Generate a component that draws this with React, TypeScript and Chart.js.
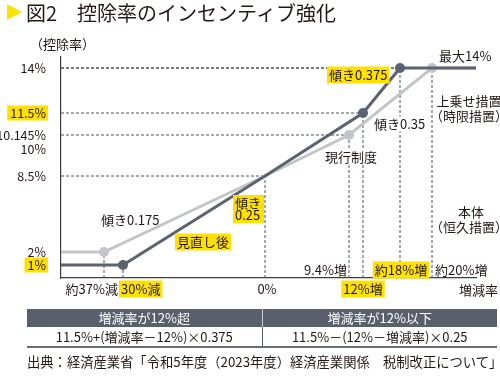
import React, { useEffect, useRef } from "react";
import { Chart, LinearScale, registerables } from "chart.js";

// ---------------- data ----------------
const revisedX = [-40, -30, 0, 12, 18, 25];
const revisedY = [1, 1, 8.5, 11.5, 14, 14];
const revisedMarked = [false, true, false, true, true, false];

const currentX = [-40, -37, 0, 9.4, 20, 25];
const currentY = [2, 2, 8.5, 10.145, 14, 14];
const currentMarked = [false, true, false, true, true, false];

const yTicks = [1, 2, 8.5, 10, 10.145, 11.5, 14];
const yTickLabels = ["1%", "2%", "8.5%", "10%", "10.145%", "11.5%", "14%"];
const yHighlighted = [1, 11.5];

const xMin = -40;
const xMax = 25;
const yMin = 0;
const yMax = 15;

// schematic (non-linear) axis spacing: [value, fraction of axis length]
const AXIS_BREAKS: Record<string, number[][]> = {
  x: [
    [-40, 0],
    [-37, 43 / 415],
    [-30, 62 / 415],
    [0, 204 / 415],
    [9.4, 288 / 415],
    [12, 302 / 415],
    [18, 339 / 415],
    [20, 371 / 415],
    [25, 1],
  ],
  y: [
    [0, 0],
    [1, 13 / 221],
    [2, 26 / 221],
    [8.5, 102 / 221],
    [10, 129 / 221],
    [10.145, 143 / 221],
    [11.5, 165 / 221],
    [14, 210 / 221],
    [15, 1],
  ],
};

const DARK = "#5b6271";
const LIGHT = "#c3c6c9";
const GUIDE = "#4b5261";
const YELLOW = "#ffe100";
const TEXT = "#231815";
const FONT_FAMILY = '"Noto Sans CJK JP", "Noto Sans", sans-serif';
const LABEL_SIZE = 13;

class PiecewiseScale extends LinearScale {
  static id = "piecewise";
  _breaks(): number[][] {
    return AXIS_BREAKS[(this as any).axis] || AXIS_BREAKS.x;
  }
  getPixelForValue(value: number) {
    if (value === null || value === undefined || isNaN(value)) return NaN;
    const b = this._breaks();
    let i = 0;
    while (i < b.length - 2 && value > b[i + 1][0]) i++;
    const [v0, d0] = b[i];
    const [v1, d1] = b[i + 1];
    const dec = d0 + ((value - v0) / (v1 - v0)) * (d1 - d0);
    return (this as any).getPixelForDecimal(dec);
  }
  getValueForPixel(pixel: number) {
    const dec = (this as any).getDecimalForPixel(pixel);
    const b = this._breaks();
    let i = 0;
    while (i < b.length - 2 && dec > b[i + 1][1]) i++;
    const [v0, d0] = b[i];
    const [v1, d1] = b[i + 1];
    return v0 + ((dec - d0) / (d1 - d0)) * (v1 - v0);
  }
}

Chart.register(...registerables, PiecewiseScale as any);

function toPoints(xs: number[], ys: number[]) {
  return xs.map((x, i) => ({ x, y: ys[i] }));
}

// guide lines derived from the key points
const keyPoints: { x: number; y: number }[] = [];
revisedX.forEach((x, i) => revisedMarked[i] && keyPoints.push({ x, y: revisedY[i] }));
currentX.forEach((x, i) => currentMarked[i] && keyPoints.push({ x, y: currentY[i] }));
keyPoints.push({ x: 0, y: 8.5 });

const guideDatasets: any[] = [];
keyPoints.forEach((p) => {
  guideDatasets.push({
    data: [
      { x: p.x, y: yMin },
      { x: p.x, y: p.y },
    ],
  });
  if (p.y > 2) {
    guideDatasets.push({
      data: [
        { x: xMin, y: p.y },
        { x: p.x, y: p.y },
      ],
    });
  }
});

function drawLabel(
  ctx: CanvasRenderingContext2D,
  text: string,
  x: number,
  y: number,
  align: "left" | "center" | "right",
  bg?: string,
  padX = 2,
  padY = 1
) {
  ctx.font = `${LABEL_SIZE}px ${FONT_FAMILY}`;
  const w = ctx.measureText(text).width;
  const left = align === "left" ? x : align === "center" ? x - w / 2 : x - w;
  if (bg) {
    ctx.fillStyle = bg;
    ctx.fillRect(left - padX, y - 7.5 - padY, w + padX * 2, 15 + padY * 2);
  }
  ctx.fillStyle = TEXT;
  ctx.textAlign = "left";
  ctx.textBaseline = "middle";
  ctx.fillText(text, left, y);
}

const annotationPlugin = {
  id: "annotations",
  afterDraw(chart: any) {
    const ctx: CanvasRenderingContext2D = chart.ctx;
    const xs = chart.scales.x;
    const px = (v: number) => xs.getPixelForValue(v);
    ctx.save();
    // axis title
    drawLabel(ctx, "（控除率）", 30, 44, "left");
    // line annotations
    drawLabel(ctx, "最大14%", 439, 56, "left");
    drawLabel(ctx, "傾き0.375", 329, 75, "left", YELLOW);
    drawLabel(ctx, "傾き0.35", 374, 124, "left", "#ffffff", 1, 0);
    drawLabel(ctx, "現行制度", 325, 157, "left", "#ffffff", 1, 0);
    drawLabel(ctx, "傾き0.175", 101, 220, "left");
    drawLabel(ctx, "見直し後", 177, 242, "left", YELLOW);
    // two-line yellow label
    ctx.fillStyle = YELLOW;
    ctx.fillRect(233, 195, 31, 28);
    drawLabel(ctx, "傾き", 235, 203, "left");
    drawLabel(ctx, "0.25", 235, 215, "left");
    // right side labels
    drawLabel(ctx, "上乗せ措置", 469, 101, "center");
    drawLabel(ctx, "（時限措置）", 469, 116, "center");
    drawLabel(ctx, "本体", 471, 212, "center");
    drawLabel(ctx, "（恒久措置）", 469, 227, "center");
    // x labels above the axis
    drawLabel(ctx, "9.4%増", px(9.4) - 2, 270, "right");
    drawLabel(ctx, "約18%増", px(18) + 1, 270, "center", YELLOW);
    drawLabel(ctx, "約20%増", px(20) + 3, 270, "left");
    // x labels below the axis
    drawLabel(ctx, "約37%減", px(-30) - 5, 289, "right");
    drawLabel(ctx, "30%減", px(-30) - 2, 289, "left", YELLOW);
    drawLabel(ctx, "0%", px(0) + 2, 289, "center");
    drawLabel(ctx, "12%増", px(12), 289, "center", YELLOW);
    drawLabel(ctx, "増減率", 459, 290, "left");
    ctx.restore();
  },
};

export default function App() {
  const canvasRef = useRef<HTMLCanvasElement | null>(null);

  useEffect(() => {
    if (!canvasRef.current) return;
    const chart = new Chart(canvasRef.current, {
      type: "line",
      data: {
        datasets: [
          {
            label: "見直し後",
            data: toPoints(revisedX, revisedY),
            borderColor: DARK,
            backgroundColor: DARK,
            borderWidth: 3,
            pointRadius: revisedMarked.map((m) => (m ? 5 : 0)),
            pointBorderWidth: 0,
            tension: 0,
          },
          {
            label: "現行制度",
            data: toPoints(currentX, currentY),
            borderColor: LIGHT,
            backgroundColor: LIGHT,
            borderWidth: 3,
            pointRadius: currentMarked.map((m) => (m ? 5 : 0)),
            pointBorderWidth: 0,
            tension: 0,
          },
          ...guideDatasets.map((g) => ({
            ...g,
            borderColor: GUIDE,
            borderWidth: 1,
            borderDash: [3, 2],
            pointRadius: 0,
          })),
        ],
      },
      options: {
        responsive: false,
        animation: false,
        events: [],
        layout: { padding: { top: 57, right: 24, bottom: 98, left: 0 } },
        plugins: {
          legend: { display: false },
          tooltip: { enabled: false },
        },
        scales: {
          x: {
            type: "piecewise" as any,
            min: xMin,
            max: xMax,
            grid: { display: false },
            ticks: { display: false },
            border: { color: "#3e3e3e", width: 1.2 },
            afterFit: (s: any) => {
              s.height = 0;
            },
          },
          y: {
            type: "piecewise" as any,
            min: yMin,
            max: yMax,
            grid: { display: false },
            border: { color: "#3e3e3e", width: 1.2 },
            afterBuildTicks: (s: any) => {
              s.ticks = yTicks.map((v) => ({ value: v }));
            },
            afterFit: (s: any) => {
              s.width = 61;
            },
            ticks: {
              autoSkip: false,
              padding: 7,
              color: TEXT,
              font: { family: FONT_FAMILY, size: 12.5 },
              callback: (v: any) => yTickLabels[yTicks.indexOf(Number(v))] ?? "",
              showLabelBackdrop: (c: any) => yHighlighted.includes(c.tick?.value),
              backdropColor: YELLOW,
              backdropPadding: { top: 0, bottom: 0, left: 3, right: 2 },
            },
          },
        } as any,
      },
      plugins: [annotationPlugin],
    } as any);
    return () => chart.destroy();
  }, []);

  return (
    <div
      style={{
        position: "absolute",
        left: 0,
        top: 0,
        width: 500,
        height: 376,
        background: "#ffffff",
        fontFamily: FONT_FAMILY,
        color: TEXT,
        overflow: "hidden",
      }}
    >
      <canvas
        ref={canvasRef}
        width={500}
        height={376}
        style={{ position: "absolute", left: 0, top: 0, width: 500, height: 376 }}
      />
      <div
        style={{
          position: "absolute",
          left: 7,
          top: 4,
          width: 0,
          height: 0,
          borderLeft: `15px solid ${YELLOW}`,
          borderTop: "8.5px solid transparent",
          borderBottom: "8.5px solid transparent",
        }}
      />
      <div
        style={{
          position: "absolute",
          left: 26,
          top: 0,
          fontSize: 20,
          lineHeight: "26px",
          whiteSpace: "nowrap",
        }}
      >
        図2　控除率のインセンティブ強化
      </div>
      <table
        style={{
          position: "absolute",
          left: 27,
          top: 309,
          width: 470,
          borderCollapse: "collapse",
          tableLayout: "fixed",
          fontSize: 13,
          textAlign: "center",
        }}
      >
        <tbody>
          <tr style={{ background: "#59606c", color: "#ffffff", height: 18 }}>
            <td style={{ padding: 0, lineHeight: "18px", borderRight: "1px solid #c8cbd0" }}>
              増減率が12%超
            </td>
            <td style={{ padding: 0, lineHeight: "18px" }}>増減率が12%以下</td>
          </tr>
          <tr style={{ height: 19, borderBottom: "2px solid #6a6e76" }}>
            <td style={{ padding: 0, lineHeight: "19px", borderRight: "1.5px solid #555a63" }}>
              11.5%+(増減率－12%)×0.375
            </td>
            <td style={{ padding: 0, lineHeight: "19px" }}>11.5%－(12%－増減率)×0.25</td>
          </tr>
        </tbody>
      </table>
      <div
        style={{
          position: "absolute",
          left: 27,
          top: 353,
          fontSize: 13.3,
          lineHeight: "18px",
          whiteSpace: "nowrap",
        }}
      >
        出典：経済産業省「令和5年度（2023年度）経済産業関係　税制改正について」
      </div>
    </div>
  );
}
